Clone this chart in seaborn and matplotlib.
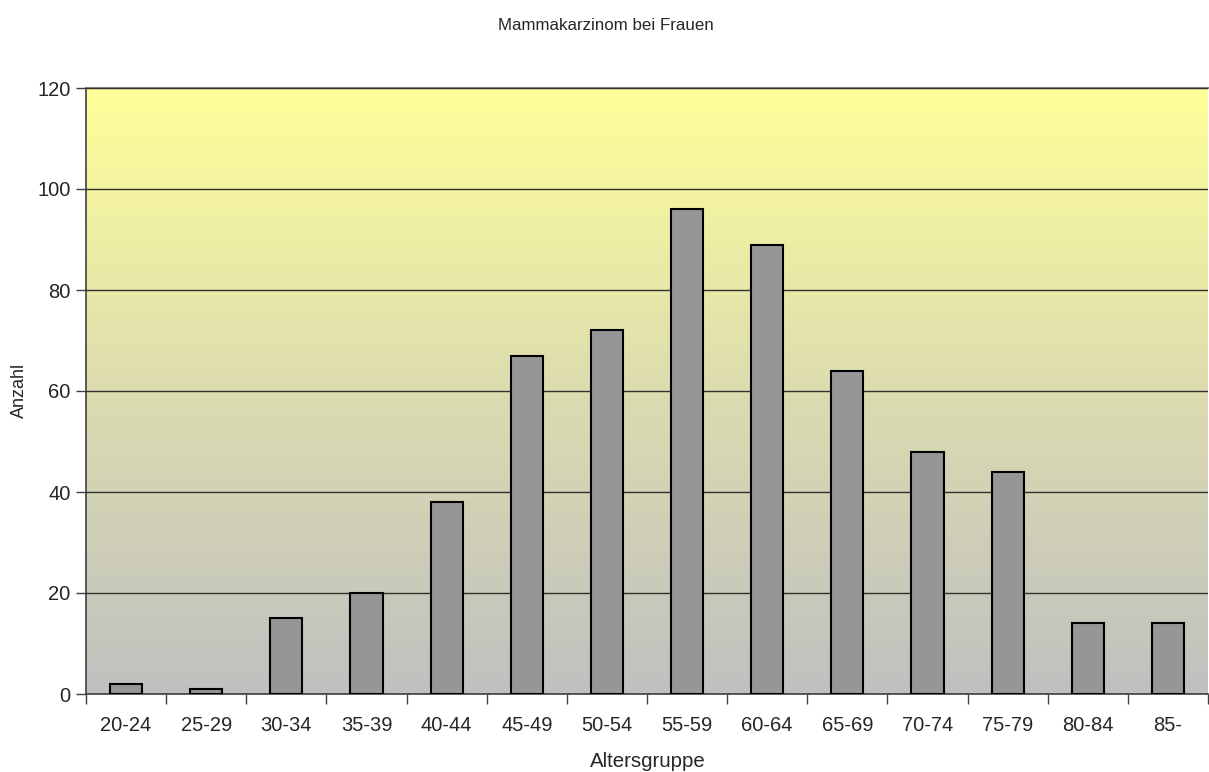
import numpy as np
import pandas as pd
import matplotlib
matplotlib.use("Agg")
import matplotlib.pyplot as plt
import seaborn as sns
from matplotlib.colors import LinearSegmentedColormap

# Age groups and number of breast cancer cases
altersgruppen = ["20-24", "25-29", "30-34", "35-39", "40-44", "45-49", "50-54",
                 "55-59", "60-64", "65-69", "70-74", "75-79", "80-84", "85-"]
anzahl = [2, 1, 15, 20, 38, 67, 72, 96, 89, 64, 48, 44, 14, 14]
y_ticks = [0, 20, 40, 60, 80, 100, 120]

df = pd.DataFrame({"Altersgruppe": altersgruppen, "Anzahl": anzahl})

sns.set_style("white")
plt.rcParams["font.family"] = ["Liberation Sans", "DejaVu Sans"]

fig = plt.figure(figsize=(12.09, 7.72), dpi=100)
ax = fig.add_axes([86 / 1209, 1 - 694 / 772, (1208 - 86) / 1209, (694 - 88) / 772])

# Yellow-to-grey vertical gradient behind the bars
grad = LinearSegmentedColormap.from_list("bg", ["#c0c0c0", "#dcdcb0", "#ffff99"])
ax.imshow(np.linspace(0, 1, 256).reshape(-1, 1), cmap=grad, aspect="auto",
          extent=[0, 1, 0, 1], origin="lower", transform=ax.transAxes, zorder=0)

sns.barplot(data=df, x="Altersgruppe", y="Anzahl", color="#969696",
            saturation=1, width=0.4, edgecolor="black", linewidth=1.5,
            ax=ax, zorder=3)

ax.set_xlim(-0.5, len(altersgruppen) - 0.5)
ax.set_ylim(0, 120)
ax.set_yticks(y_ticks)
ax.yaxis.grid(True, color="#303030", linewidth=1.0)
ax.set_axisbelow(False)
for gl in ax.get_ygridlines():
    gl.set_zorder(1)

# Category ticks sit between the groups
ax.set_xticks(np.arange(len(altersgruppen)))
ax.set_xticklabels(altersgruppen)
ax.tick_params(axis="x", which="major", length=0, labelsize=14.5, pad=16)
ax.set_xticks(np.arange(len(altersgruppen) + 1) - 0.5, minor=True)
ax.tick_params(axis="x", which="minor", length=7, width=1, color="#404040",
               direction="out", bottom=True)
ax.tick_params(axis="y", length=7, width=1, color="#404040", direction="out",
               left=True, labelsize=14.5, pad=4)

ax.spines["right"].set_visible(False)
ax.spines["top"].set_color("#808080")
ax.spines["top"].set_linewidth(1.5)
ax.spines["left"].set_color("#404040")
ax.spines["bottom"].set_color("#404040")
ax.spines["left"].set_linewidth(1.2)
ax.spines["bottom"].set_linewidth(1.2)

ax.set_xlabel("")
ax.set_ylabel("")
fig.text(648 / 1209, 1 - 767 / 772, "Altersgruppe",
         ha="center", va="baseline", fontsize=14.7)
fig.text(19 / 1209, 1 - 390 / 772, "Anzahl", rotation=90,
         ha="center", va="center", fontsize=13)
fig.text(606 / 1209, 1 - 26 / 772, "Mammakarzinom bei Frauen",
         ha="center", va="center", fontsize=12.2)

fig.savefig("out.png", dpi=100)
